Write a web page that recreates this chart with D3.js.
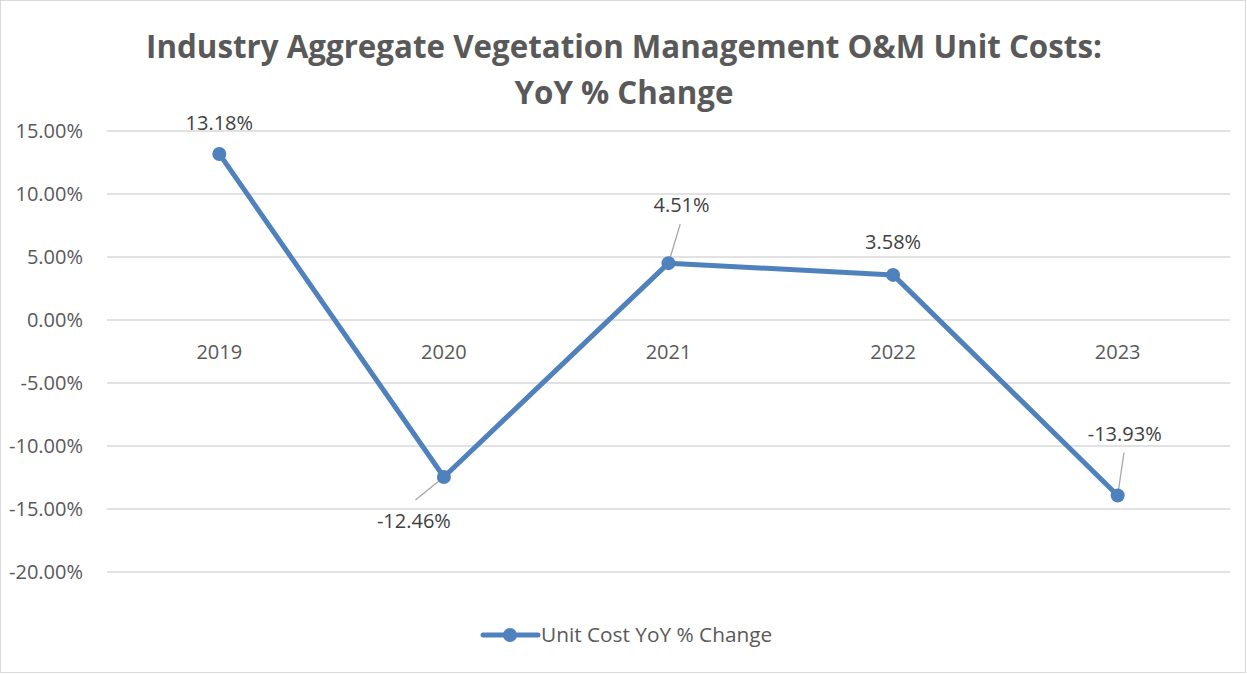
<!DOCTYPE html>
<html><head><meta charset="utf-8">
<script src="https://cdn.jsdelivr.net/npm/d3@7/dist/d3.min.js"></script>
<style>body{margin:0;background:#fff;} svg{display:block;}</style>
</head><body>
<svg id="c" width="1247" height="674"></svg>
<script>
const categories = ["2019","2020","2021","2022","2023"];
const values = [13.18, -12.46, 4.51, 3.58, -13.93];
const labels = ["13.18%","-12.46%","4.51%","3.58%","-13.93%"];
const yTicks = [15,10,5,0,-5,-10,-15,-20];
const seriesName = "Unit Cost YoY % Change";
const titleLines = ["Industry Aggregate Vegetation Management O&M Unit Costs:","YoY % Change"];

const svg = d3.select("#c");
const font = "'Open Sans', sans-serif";
const fs = 20;
svg.append("rect").attr("x",0.5).attr("y",0.5).attr("width",1245).attr("height",672)
  .attr("fill","#fff").attr("stroke","#d9d9d9");

const x = d3.scalePoint().domain(categories).range([107,1230]).padding(0.5);
const y = d3.scaleLinear().domain([-20,15]).range([572,131]);

svg.append("g").selectAll("line").data(yTicks).join("line")
  .attr("x1",107).attr("x2",1230).attr("y1",d=>y(d)).attr("y2",d=>y(d))
  .attr("stroke","#d9d9d9").attr("stroke-width",1.3);

svg.append("g").selectAll("text").data(yTicks).join("text")
  .attr("x",83).attr("y",d=>y(d)).attr("dy","0.36em").attr("text-anchor","end")
  .attr("font-family",font).attr("font-size",fs).attr("fill","#595959")
  .text(d=>d.toFixed(2)+"%");

svg.append("g").selectAll("text").data(categories).join("text")
  .attr("x",d=>x(d)).attr("y",y(0)+32).attr("dy","0.36em").attr("text-anchor","middle")
  .attr("font-family",font).attr("font-size",fs).attr("fill","#595959")
  .text(d=>d);

svg.append("g").selectAll("text").data(titleLines).join("text")
  .attr("x",624).attr("y",(d,i)=>47+i*46).attr("dy","0.36em").attr("text-anchor","middle")
  .attr("font-family",font).attr("font-size",31.3).attr("font-weight","bold").attr("fill","#595959")
  .text(d=>d);

const color = "#4F81BD";
const data = categories.map((c,i)=>({c, v:values[i], l:labels[i]}));
svg.append("path").datum(data)
  .attr("d", d3.line().x(d=>x(d.c)).y(d=>y(d.v)))
  .attr("fill","none").attr("stroke",color).attr("stroke-width",5).attr("stroke-linejoin","round");

const lab = [
  {dx:0, dy:-31, leader:false},
  {dx:-30, dy:44, leader:true},
  {dx:13, dy:-58, leader:true},
  {dx:0, dy:-33, leader:false},
  {dx:7, dy:-62, leader:true}
];
data.forEach((d,i)=>{
  const px=x(d.c), py=y(d.v), o=lab[i];
  if(o.leader){
    let lx, ly;
    if(o.dy<0){ lx = px+o.dx*0.9; ly = py+o.dy+19; }
    else { lx = px+o.dx*0.95; ly = py+o.dy-21; }
    svg.append("line").attr("x1",px).attr("y1",py).attr("x2",lx).attr("y2",ly)
      .attr("stroke","#a6a6a6").attr("stroke-width",1.3);
  }
});

svg.append("g").selectAll("circle").data(data).join("circle")
  .attr("cx",d=>x(d.c)).attr("cy",d=>y(d.v)).attr("r",7).attr("fill",color);

svg.append("g").selectAll("text").data(data).join("text")
  .attr("x",(d,i)=>x(d.c)+lab[i].dx).attr("y",(d,i)=>y(d.v)+lab[i].dy).attr("dy","0.36em")
  .attr("text-anchor","middle").attr("font-family",font).attr("font-size",fs).attr("fill","#404040")
  .text(d=>d.l);

const lg = svg.append("g");
lg.append("line").attr("x1",483).attr("x2",538).attr("y1",635).attr("y2",635)
  .attr("stroke",color).attr("stroke-width",5).attr("stroke-linecap","round");
lg.append("circle").attr("cx",510).attr("cy",635).attr("r",7).attr("fill",color);
lg.append("text").attr("x",541).attr("y",635).attr("dy","0.36em")
  .attr("font-family",font).attr("font-size",20.8).attr("fill","#595959").text(seriesName);
</script>
</body></html>
